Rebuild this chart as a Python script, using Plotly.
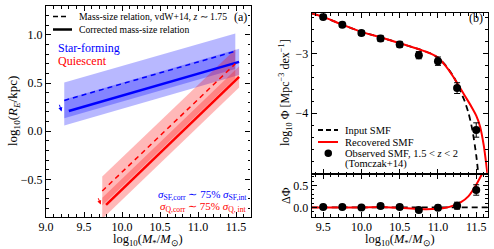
import plotly.graph_objects as go

W, H = 494, 249
FONT = "Liberation Serif"

# ---------------- Panel (a): mass-size relations ----------------
sf_obs_x = [9.24, 11.49]
sf_obs_y = [0.32, 0.83]
sf_int_upper = [0.505, 1.015]
sf_int_lower = [0.135, 0.645]
sf_corr_x = [9.30, 11.54]
sf_corr_y = [0.21, 0.72]
sf_corr_band_x = [9.24, 11.54]
sf_corr_upper = [0.33, 0.855]
sf_corr_lower = [0.06, 0.585]

q_obs_x = [9.74, 11.49]
q_obs_y = [-0.62, 0.70]
q_int_upper = [-0.47, 0.85]
q_int_lower = [-0.77, 0.55]
q_corr_x = [9.79, 11.54]
q_corr_y = [-0.765, 0.565]
q_corr_band_x = [9.74, 11.54]
q_corr_upper = [-0.69, 0.675]
q_corr_lower = [-0.91, 0.455]

sf_arrow = [9.17, 0.29, 9.205, 0.205]
q_arrow = [9.68, -0.68, 9.72, -0.76]

# ---------------- Panel (b): stellar mass function ----------------
smf_x = [9.35, 9.5, 9.75, 10.0, 10.25, 10.5, 10.75, 10.9, 11.0, 11.1, 11.2,
         11.3, 11.4, 11.45, 11.5, 11.55, 11.6, 11.65]
recovered_y = [-2.33, -2.39, -2.52, -2.64, -2.73, -2.83, -2.93, -3.00, -3.07,
               -3.21, -3.39, -3.60, -3.81, -3.92, -4.04, -4.22, -4.55, -5.05]
input_x = [9.35, 9.5, 9.75, 10.0, 10.25, 10.5, 10.75, 10.9, 11.0, 11.1, 11.2,
           11.25, 11.3, 11.35, 11.4, 11.45, 11.5, 11.53]
input_y = [-2.33, -2.39, -2.52, -2.64, -2.73, -2.83, -2.93, -3.00, -3.07,
           -3.20, -3.38, -3.50, -3.65, -3.80, -4.00, -4.28, -4.70, -5.05]

obs_x = [9.5, 9.75, 10.0, 10.25, 10.5, 10.75, 11.0, 11.25, 11.5]
obs_y = [-2.39, -2.52, -2.66, -2.75, -2.85, -3.03, -3.13, -3.58, -4.28]
obs_err = [0.04, 0.04, 0.04, 0.05, 0.05, 0.06, 0.07, 0.09, 0.12]

dphi_x = [9.5, 9.75, 10.0, 10.25, 10.5, 10.75, 11.0, 11.25, 11.5]
dphi_y = [0.01, 0.01, 0.0, 0.03, 0.01, -0.06, -0.01, 0.04, 0.40]
dphi_err = [0.04, 0.04, 0.04, 0.05, 0.05, 0.05, 0.06, 0.08, 0.12]

dcurve_x = [9.35, 9.5, 10.0, 10.25, 10.5, 10.7, 10.85, 11.0, 11.1, 11.2, 11.3,
            11.4, 11.5, 11.6]
dcurve_y = [0.0, 0.0, 0.0, 0.01, -0.01, -0.03, -0.04, -0.03, -0.01, 0.04,
            0.12, 0.26, 0.52, 0.85]
zero_x = [9.35, 11.65]
zero_y = [0.0, 0.0]

BLUE = "#0000ff"
RED = "#ff0000"
BLUE_FILL = "rgba(0,0,255,0.28)"
RED_FILL = "rgba(255,0,0,0.28)"

fig = go.Figure()


def band(x, lo, hi, color, xa="x", ya="y"):
    fig.add_trace(go.Scatter(x=x, y=lo, mode="lines", line=dict(width=0),
                             xaxis=xa, yaxis=ya, showlegend=False, hoverinfo="skip"))
    fig.add_trace(go.Scatter(x=x, y=hi, mode="lines", line=dict(width=0),
                             fill="tonexty", fillcolor=color,
                             xaxis=xa, yaxis=ya, showlegend=False, hoverinfo="skip"))


band(sf_obs_x, sf_int_lower, sf_int_upper, BLUE_FILL)
band(sf_corr_band_x, sf_corr_lower, sf_corr_upper, BLUE_FILL)
band(q_obs_x, q_int_lower, q_int_upper, RED_FILL)
band(q_corr_band_x, q_corr_lower, q_corr_upper, RED_FILL)

for xs, ys, col, dash, w in [
    (sf_obs_x, sf_obs_y, BLUE, "5px,4px", 1.5),
    (sf_corr_x, sf_corr_y, BLUE, "solid", 2.5),
    (q_obs_x, q_obs_y, RED, "5px,4px", 1.5),
    (q_corr_x, q_corr_y, RED, "solid", 2.5),
]:
    fig.add_trace(go.Scatter(x=xs, y=ys, mode="lines",
                             line=dict(color=col, width=w, dash=dash),
                             xaxis="x", yaxis="y", showlegend=False))

# Panel (b) top
fig.add_trace(go.Scatter(x=input_x, y=input_y, mode="lines",
                         line=dict(color="black", width=1.8, dash="6px,4px", shape="spline", smoothing=0.6),
                         xaxis="x3", yaxis="y3", showlegend=False))
fig.add_trace(go.Scatter(x=smf_x, y=recovered_y, mode="lines",
                         line=dict(color=RED, width=2, shape="spline", smoothing=0.6),
                         xaxis="x3", yaxis="y3", showlegend=False))
fig.add_trace(go.Scatter(x=obs_x, y=obs_y, mode="markers",
                         marker=dict(color="black", size=8),
                         error_y=dict(type="data", array=obs_err, color="black", thickness=1, width=3),
                         xaxis="x3", yaxis="y3", showlegend=False))

# Panel (b) bottom
fig.add_trace(go.Scatter(x=zero_x, y=zero_y, mode="lines",
                         line=dict(color="black", width=1.8, dash="6px,4px"),
                         xaxis="x2", yaxis="y2", showlegend=False))
fig.add_trace(go.Scatter(x=dcurve_x, y=dcurve_y, mode="lines",
                         line=dict(color=RED, width=2, shape="spline", smoothing=0.6),
                         xaxis="x2", yaxis="y2", showlegend=False))
fig.add_trace(go.Scatter(x=dphi_x, y=dphi_y, mode="markers",
                         marker=dict(color="black", size=8),
                         error_y=dict(type="data", array=dphi_err, color="black", thickness=1, width=3),
                         xaxis="x2", yaxis="y2", showlegend=False))


def px(x):
    return x / W


def py(y):
    return 1 - y / H


tickfont = dict(family=FONT, size=12, color="black")
common = dict(showline=True, linecolor="black", linewidth=1.2, mirror="allticks",
              ticks="inside", ticklen=5, tickwidth=1, tickcolor="black",
              showgrid=False, zeroline=False, tickfont=tickfont, automargin=False)

fig.update_layout(
    template="none",
    width=W, height=H, margin=dict(l=0, r=0, t=0, b=0, pad=0), autosize=False,
    paper_bgcolor="white", plot_bgcolor="white", showlegend=False,
    font=dict(family=FONT, color="black"),
    xaxis=dict(domain=[px(46), px(250.5)], range=[9.0, 11.69], anchor="y",
               tickvals=[9.0, 9.5, 10.0, 10.5, 11.0, 11.5], tickformat=".1f",
               ticklabelstandoff=-2,
               minor=dict(ticks="inside", dtick=0.1, tick0=9.0, ticklen=2.5, tickcolor="black"),
               **common),
    yaxis=dict(domain=[py(217), py(6)], range=[-0.89, 1.30], anchor="x",
               tickvals=[-0.5, 0.0, 0.5, 1.0], tickformat=".1f",
               minor=dict(ticks="inside", dtick=0.1, tick0=0.0, ticklen=2.5, tickcolor="black"),
               **common),
    xaxis2=dict(domain=[px(311.7), px(487.7)], range=[9.35, 11.65], anchor="y2",
                tickvals=[9.5, 10.0, 10.5, 11.0, 11.5], tickformat=".1f",
                ticklabelstandoff=-2,
                minor=dict(ticks="inside", dtick=0.1, tick0=9.5, ticklen=2.5, tickcolor="black"),
                **common),
    yaxis2=dict(domain=[py(217), py(174.3)], range=[-0.22, 0.76], anchor="x2",
                tickvals=[0.0, 0.5], tickformat=".1f",
                minor=dict(ticks="inside", dtick=0.1, tick0=0.0, ticklen=2.5, tickcolor="black"),
                **common),
    xaxis3=dict(domain=[px(311.7), px(487.7)], range=[9.35, 11.65], anchor="y3",
                tickvals=[9.5, 10.0, 10.5, 11.0, 11.5], showticklabels=False,
                minor=dict(ticks="inside", dtick=0.1, tick0=9.5, ticklen=2.5, tickcolor="black"),
                **common),
    yaxis3=dict(domain=[py(174.3), py(13.3)], range=[-5.02, -2.33], anchor="x3",
                tickvals=[-4, -3],
                minor=dict(ticks="inside", dtick=0.2, tick0=-5.0, ticklen=2.5, tickcolor="black"),
                **common),
)

ann = []


def text(x, y, s, size=11, color="black", xanchor="left", angle=0):
    ann.append(dict(x=px(x), y=py(y), xref="paper", yref="paper", text=s,
                    showarrow=False, xanchor=xanchor, yanchor="middle",
                    textangle=angle, font=dict(family=FONT, size=size, color=color)))


# Panel (a) texts
text(76.5, 16.5, "Mass-size relation, vdW+14, <i>z</i> ∼ 1.75", 9.7)
text(76.5, 29.5, "Corrected mass-size relation", 9.7)
text(56, 47.5, "Star-forming", 12, BLUE)
text(56, 60.5, "Quiescent", 12, RED)
text(249, 17, "(a)", 12, xanchor="right")
text(249, 195, "<i>σ</i><sub>SF,corr</sub> ∼ 75% <i>σ</i><sub>SF,int</sub>", 11, BLUE, "right")
text(249, 207, "<i>σ</i><sub>Q,corr</sub> ∼ 75% <i>σ</i><sub>Q, int</sub>", 11, RED, "right")
text(148, 239.5, "log<sub>10</sub>(<i>M</i><sub>*</sub>/<i>M</i><sub>⊙</sub>)", 12.5, xanchor="center")
text(13, 111, "log<sub>10</sub>(<i>R<sub>E</sub></i>/kpc)", 13, xanchor="center", angle=-90)

# Panel (b) texts
text(343, 130, "Input SMF", 10.5)
text(343, 142, "Recovered SMF", 10.5)
text(343, 153.5, "Observed SMF, 1.5 &lt; <i>z</i> &lt; 2", 10.5)
text(343, 164, "(Tomczak+14)", 10.5)
text(485, 18, "(b)", 12, xanchor="right")
text(400, 239.5, "log<sub>10</sub>(<i>M</i><sub>*</sub>/<i>M</i><sub>⊙</sub>)", 12.5, xanchor="center")
text(285, 93, "log<sub>10</sub> Φ [Mpc<sup>−3</sup> dex<sup>−1</sup>]", 12, xanchor="center", angle=-90)
text(286, 196, "ΔΦ", 12, xanchor="center", angle=-90)

# arrows in panel (a)
for arr, col in [(sf_arrow, BLUE), (q_arrow, RED)]:
    ann.append(dict(x=arr[2], y=arr[3], ax=arr[0], ay=arr[1], xref="x", yref="y",
                    axref="x", ayref="y", showarrow=True, arrowhead=2, arrowsize=0.8,
                    arrowwidth=1, arrowcolor=col, text=""))

fig.update_layout(annotations=ann)

# legend keys (drawn in paper coordinates)
shapes = [
    dict(type="line", xref="paper", yref="paper", x0=px(53), x1=px(69), y0=py(16.5), y1=py(16.5),
         line=dict(color="black", width=1.5, dash="5px,3px")),
    dict(type="line", xref="paper", yref="paper", x0=px(53), x1=px(72), y0=py(29.5), y1=py(29.5),
         line=dict(color="black", width=2.5)),
    dict(type="line", xref="paper", yref="paper", x0=px(318), x1=px(338), y0=py(130), y1=py(130),
         line=dict(color="black", width=1.8, dash="5px,3px")),
    dict(type="line", xref="paper", yref="paper", x0=px(318), x1=px(338), y0=py(142), y1=py(142),
         line=dict(color=RED, width=2)),
    dict(type="circle", xref="paper", yref="paper", x0=px(324.5), x1=px(332), y0=py(149.5), y1=py(157),
         fillcolor="black", line=dict(color="black", width=0)),
]
fig.update_layout(shapes=shapes)

fig.write_html(
    "out.html",
    config={"displayModeBar": False, "responsive": False},
    post_script="document.body.style.margin='0';document.body.style.overflow='hidden';",
)
